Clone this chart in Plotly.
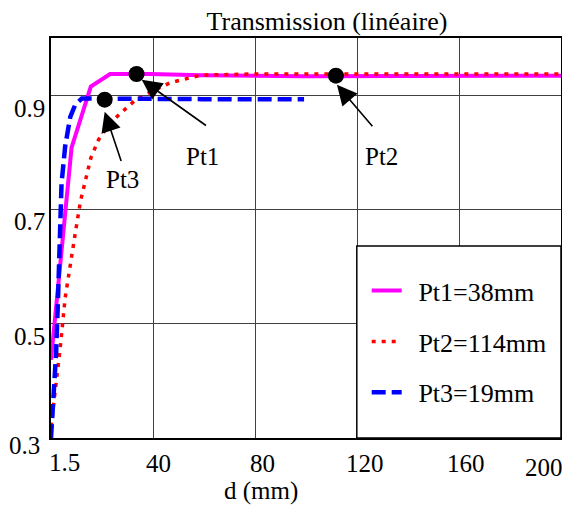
import numpy as np
import plotly.graph_objects as go

# ---------------- data ----------------
d_pt1 = [1.5, 9.5, 17, 24.5, 40, 60, 100, 150, 200]
t_pt1 = [0.437, 0.808, 0.915, 0.937, 0.937, 0.935, 0.933, 0.934, 0.934]

d_pt2 = [1.5, 3.5, 5, 7, 9, 11, 13, 15, 17, 20, 24, 28, 34, 40, 48, 60, 80, 100, 150, 200]
t_pt2 = [0.32, 0.39, 0.454, 0.545, 0.606, 0.66, 0.715, 0.755, 0.79, 0.822, 0.848,
         0.866, 0.89, 0.905, 0.922, 0.935, 0.937, 0.937, 0.937, 0.937]

d_pt3 = [1.5, 2.5, 3.5, 4.2, 5, 5.6, 7, 9, 11, 13.5, 20, 40, 60, 80, 100]
t_pt3 = [0.30, 0.37, 0.45, 0.54, 0.70, 0.745, 0.81, 0.862, 0.884, 0.894, 0.894,
         0.893, 0.893, 0.893, 0.893]

series_names = ["Pt1=38mm", "Pt2=114mm", "Pt3=19mm"]

# marked points (Pt1, Pt2, Pt3)
mark_labels = ["Pt1", "Pt2", "Pt3"]
mark_d = [34.8, 112.4, 22.4]
mark_t = [0.937, 0.934, 0.892]

x_min, x_max = 1.5, 200
y_min, y_max = 0.3, 1.0
x_tick_text = ["1.5", "40", "80", "120", "160", "200"]
y_tick_vals = [0.3, 0.5, 0.7, 0.9]
y_tick_text = ["0.3", "0.5", "0.7", "0.9"]

# ---------------- styling / layout helpers ----------------
FONT = "Liberation Serif"
FS = 25
PAGE_OFF = 8  # default body margin of the html page
W, H = 570 - PAGE_OFF, 509 - PAGE_OFF
x_grid = np.linspace(x_min, x_max, 6)
xlabel_dx = [13, 5, 7, 8, 7, -17]
xlabel_dy = [-24, -25, -25, -25, -25, -29]
ylabel_dx = [-9, -4, -4, -4]
ylabel_dy = [-7, -13, -12, -13]

# arrow tips / tails and label positions (data coords)
arrow_tip = {"Pt1": (36.8, 0.927), "Pt2": (112.8, 0.918), "Pt3": (22.4, 0.871)}
arrow_tail = {"Pt1": (62.4, 0.845), "Pt2": (127.1, 0.843), "Pt3": (29.0, 0.782)}
label_pos = {"Pt1": (60.4, 0.792), "Pt2": (130.2, 0.792), "Pt3": (29.4, 0.752)}

fig = go.Figure()

fig.add_trace(go.Scatter(x=d_pt1, y=t_pt1, mode="lines", name="\u00a0\u2009" + series_names[0],
                         legendgroup="a",
                         line=dict(color="#ff00ff", width=4)))
fig.add_trace(go.Scatter(x=d_pt2, y=t_pt2, mode="lines", name="\u00a0\u2009" + series_names[1],
                         legendgroup="b",
                         line=dict(color="#ff0000", width=3.5, dash="4px,6px")))
fig.add_trace(go.Scatter(x=d_pt3, y=t_pt3, mode="lines", name="\u00a0\u2009" + series_names[2],
                         legendgroup="c",
                         line=dict(color="#0000ff", width=4.5, dash="14px,6px")))
fig.add_trace(go.Scatter(x=mark_d, y=mark_t, mode="markers", showlegend=False,
                         marker=dict(color="black", size=16, symbol="circle")))

annotations = []
for i, (v, t) in enumerate(zip(x_grid, x_tick_text)):
    annotations.append(dict(x=v, y=0, xref="x", yref="paper", text=t, showarrow=False,
                            xanchor="center", yanchor="middle",
                            xshift=xlabel_dx[i], yshift=xlabel_dy[i],
                            font=dict(family=FONT, size=FS, color="black")))
for i, (v, t) in enumerate(zip(y_tick_vals, y_tick_text)):
    annotations.append(dict(x=0, y=v, xref="paper", yref="y", text=t, showarrow=False,
                            xanchor="right", yanchor="middle",
                            xshift=ylabel_dx[i], yshift=ylabel_dy[i],
                            font=dict(family=FONT, size=FS, color="black")))
for lab in mark_labels:
    tx, ty = arrow_tip[lab]
    ax, ay = arrow_tail[lab]
    annotations.append(dict(x=tx, y=ty, xref="x", yref="y", ax=ax, ay=ay,
                            axref="x", ayref="y", text="", showarrow=True,
                            arrowhead=2, arrowsize=2.5, arrowwidth=1.6,
                            arrowcolor="black", standoff=0, startstandoff=0))
    lx, ly = label_pos[lab]
    annotations.append(dict(x=lx, y=ly, xref="x", yref="y", text=lab, showarrow=False,
                            xanchor="center", yanchor="middle",
                            font=dict(family=FONT, size=FS, color="black")))
annotations.append(dict(x=(262 - 51) / 512, y=0, xref="paper", yref="paper",
                        text="d (mm)", showarrow=False, xanchor="center",
                        yanchor="middle", yshift=-53,
                        font=dict(family=FONT, size=FS, color="black")))

fig.update_layout(
    width=W, height=H,
    margin=dict(l=51 - PAGE_OFF, r=7, t=38 - PAGE_OFF, b=71),
    paper_bgcolor="white", plot_bgcolor="white",
    title=dict(text="Transmission (linéaire)", x=(327 - PAGE_OFF) / W, xref="container",
               xanchor="center", y=1 - (21 - PAGE_OFF) / H, yref="container",
               yanchor="middle",
               font=dict(family=FONT, size=26, color="black")),
    xaxis=dict(range=[x_min, x_max], tickvals=list(x_grid), showticklabels=False,
               ticks="", showgrid=True, gridcolor="#404040", gridwidth=1,
               showline=True, linecolor="black", linewidth=1.5, mirror=True,
               zeroline=False),
    yaxis=dict(range=[y_min, y_max], tickvals=y_tick_vals, showticklabels=False,
               ticks="", showgrid=True, gridcolor="#404040", gridwidth=1,
               showline=True, linecolor="black", linewidth=1.5, mirror=True,
               zeroline=False),
    showlegend=True,
    legend=dict(x=0.619, y=0.427, xanchor="left", yanchor="top",
                bgcolor="rgba(0,0,0,0)", borderwidth=0, tracegroupgap=14,
                itemwidth=30,
                font=dict(family=FONT, size=26, color="black")),
    shapes=[dict(type="rect", xref="paper", yref="paper", x0=(358 - 51) / 512, x1=1,
                 y0=0, y1=(438 - 246) / 400, fillcolor="white",
                 line=dict(color="black", width=1.5), layer="above")],
    annotations=annotations,
)

fig.write_html("out.html")
